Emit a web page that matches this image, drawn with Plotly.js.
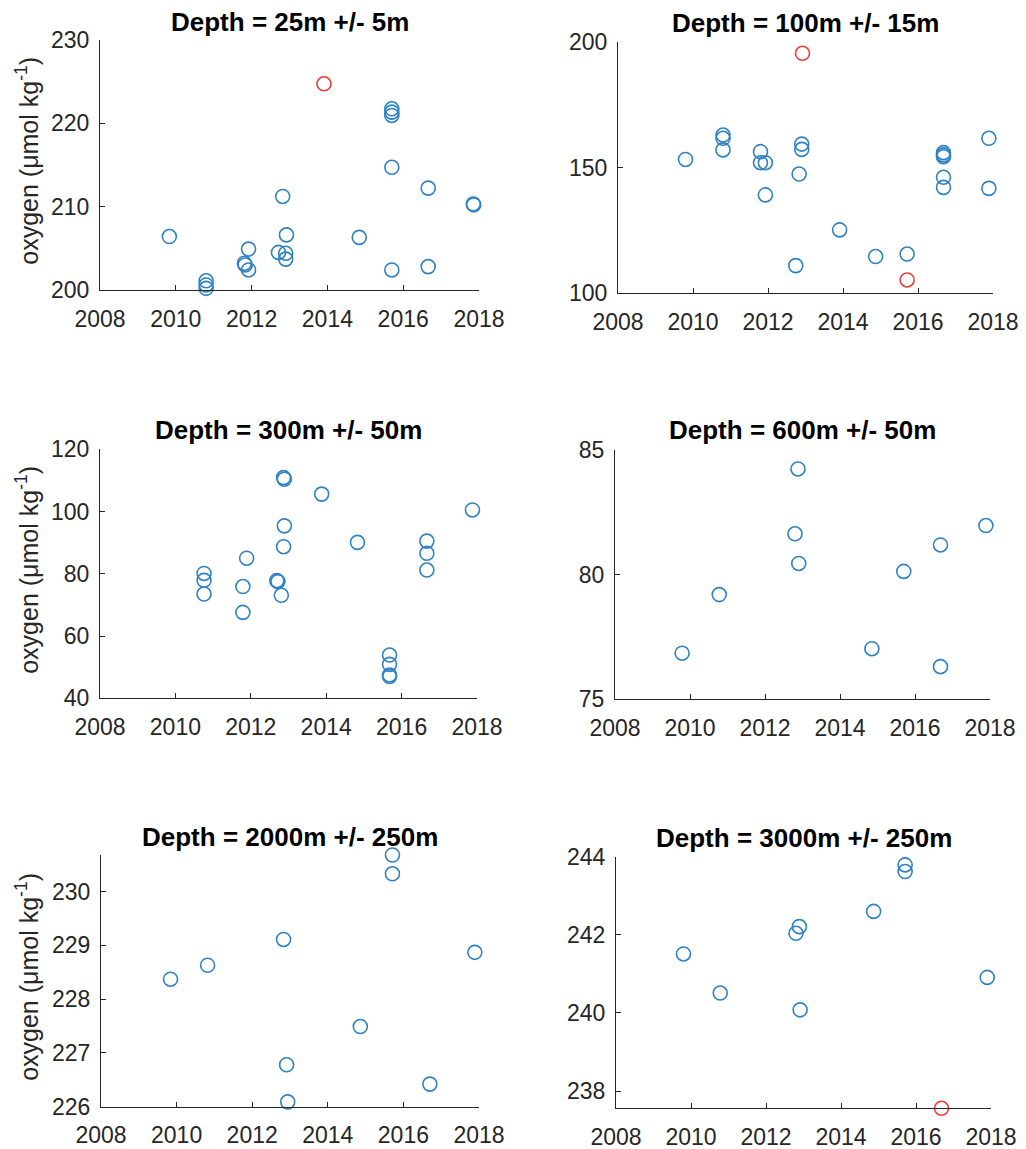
<!DOCTYPE html>
<html>
<head>
<meta charset="utf-8">
<script src="https://cdn.plot.ly/plotly-3.0.1.min.js"></script>
<style>html,body{margin:0;padding:0;background:#fff;}#chart{width:1026px;height:1149px;}</style>
</head>
<body>
<div id="chart"></div>
<script>
// ---------- data ----------
const panelTitles = ["Depth = 25m +/- 5m", "Depth = 100m +/- 15m", "Depth = 300m +/- 50m",
                     "Depth = 600m +/- 50m", "Depth = 2000m +/- 250m", "Depth = 3000m +/- 250m"];
const xTicks = [2008, 2010, 2012, 2014, 2016, 2018];
const yLabel = "oxygen (\u03bcmol kg<sup>-1</sup>)";

const years1 = [2009.83, 2010.80, 2010.80, 2010.80, 2011.81, 2011.83, 2011.92, 2011.92, 2012.71, 2012.82, 2012.92, 2012.90, 2012.90, 2014.84, 2015.70, 2015.70, 2015.70, 2015.70, 2015.70, 2016.66, 2016.66, 2017.85, 2017.86];
const vals1  = [206.4, 201.1, 200.6, 200.2, 203.2, 203.0, 204.9, 202.4, 204.5, 211.2, 206.6, 204.4, 203.7, 206.3, 221.7, 221.3, 220.9, 214.7, 202.4, 212.2, 202.8, 210.3, 210.2];
const redYears1 = [2013.91];
const redVals1  = [224.7];

const years2 = [2009.80, 2010.80, 2010.80, 2010.80, 2011.80, 2011.80, 2011.93, 2011.93, 2012.74, 2012.83, 2012.90, 2012.90, 2013.91, 2014.87, 2015.71, 2016.68, 2016.68, 2016.68, 2016.68, 2016.68, 2017.89, 2017.89];
const vals2  = [153.2, 162.9, 161.6, 157.0, 156.3, 151.9, 151.9, 139.1, 111.0, 147.4, 159.3, 157.2, 125.2, 114.6, 115.6, 155.9, 155.0, 154.3, 146.1, 142.1, 161.6, 141.7];
const redYears2 = [2012.92, 2015.71];
const redVals2  = [195.4, 105.3];

const years3 = [2010.76, 2010.76, 2010.76, 2011.79, 2011.79, 2011.89, 2012.69, 2012.72, 2012.81, 2012.87, 2012.89, 2012.87, 2012.89, 2013.88, 2014.83, 2015.68, 2015.68, 2015.68, 2015.68, 2016.67, 2016.67, 2016.67, 2017.88];
const vals3  = [80.1, 77.9, 73.5, 75.9, 67.6, 85.0, 77.8, 77.5, 73.1, 88.7, 95.4, 110.9, 110.4, 105.6, 90.1, 53.9, 50.9, 47.5, 47.0, 90.5, 86.6, 81.2, 100.5];
const redYears3 = [];
const redVals3  = [];

const years4 = [2009.79, 2010.78, 2012.80, 2012.88, 2012.90, 2014.85, 2015.70, 2016.68, 2016.68, 2017.89];
const vals4  = [76.85, 79.2, 81.64, 84.24, 80.45, 77.03, 80.13, 81.19, 76.31, 81.97];
const redYears4 = [];
const redVals4  = [];

const years5 = [2009.84, 2010.82, 2012.83, 2012.91, 2012.94, 2014.86, 2015.71, 2015.71, 2016.70, 2017.89];
const vals5  = [228.37, 228.63, 229.11, 226.78, 226.09, 227.49, 230.68, 230.33, 226.42, 228.87];
const redYears5 = [];
const redVals5  = [];

const years6 = [2009.80, 2010.78, 2012.80, 2012.89, 2012.91, 2014.87, 2015.71, 2015.71, 2017.90];
const vals6  = [241.51, 240.51, 242.04, 242.21, 240.08, 242.60, 243.79, 243.62, 240.91];
const redYears6 = [2016.68];
const redVals6  = [237.56];

const yRanges = [[200, 230], [100, 200], [40, 120], [75, 85], [226, 230.68], [237.56, 244]];
const yDticks = [10, 50, 20, 5, 1, 2];

// ---------- layout geometry (paper fractions) ----------
const W = 1026, H = 1149;
const boxes = [ // [x0,x1,yTop,yBottom] in px
  [100, 479, 39.5, 290],
  [618, 993, 41.7, 293.3],
  [100, 477, 449.3, 698.3],
  [615, 990, 450, 699.3],
  [101, 479, 855, 1106.7],
  [616, 991, 856.7, 1108.3]
];
const titleY = [21.7, 23, 430, 430, 836.7, 838];

const blue = '#2F82C4', red = '#EE3B3B';
const axisCol = '#262626';
const tickFont = {family: 'Liberation Sans, Arial, sans-serif', size: 23, color: axisCol};

const blues = [[years1, vals1], [years2, vals2], [years3, vals3], [years4, vals4], [years5, vals5], [years6, vals6]];
const reds = [[redYears1, redVals1], [redYears2, redVals2], [redYears3, redVals3], [redYears4, redVals4], [redYears5, redVals5], [redYears6, redVals6]];

const traces = [];
const layout = {
  width: W, height: H,
  margin: {l: 0, r: 0, t: 0, b: 0},
  paper_bgcolor: '#fff', plot_bgcolor: '#fff',
  showlegend: false,
  annotations: []
};

for (let i = 0; i < 6; i++) {
  const n = i + 1;
  const xa = n === 1 ? 'x' : 'x' + n;
  const ya = n === 1 ? 'y' : 'y' + n;
  const mk = (c) => ({symbol: 'circle-open', size: 14, color: c, line: {width: 1.6, color: c}});
  traces.push({x: blues[i][0], y: blues[i][1], xaxis: xa, yaxis: ya, type: 'scatter', mode: 'markers',
               marker: mk(blue), cliponaxis: false, hoverinfo: 'x+y'});
  if (reds[i][0].length) {
    traces.push({x: reds[i][0], y: reds[i][1], xaxis: xa, yaxis: ya, type: 'scatter', mode: 'markers',
                 marker: mk(red), cliponaxis: false, hoverinfo: 'x+y'});
  }
  const b = boxes[i];
  const common = {showline: true, linecolor: axisCol, linewidth: 1, ticks: 'inside', ticklen: 5,
                  tickcolor: axisCol, tickwidth: 1, showgrid: false, zeroline: false, mirror: false,
                  tickfont: tickFont, fixedrange: true};
  layout['xaxis' + (n === 1 ? '' : n)] = Object.assign({}, common, {
    domain: [b[0] / W, b[1] / W], anchor: ya, range: [2008, 2018],
    tickmode: 'array', tickvals: xTicks, ticktext: xTicks.map(String), ticklabelstandoff: 8
  });
  layout['yaxis' + (n === 1 ? '' : n)] = Object.assign({}, common, {
    domain: [1 - b[3] / H, 1 - b[2] / H], anchor: xa, range: yRanges[i],
    tick0: 0, dtick: yDticks[i], ticklabelstandoff: 5
  });
  layout.annotations.push({
    text: '<b>' + panelTitles[i] + '</b>', xref: 'paper', yref: 'paper',
    x: (b[0] + b[1]) / 2 / W, y: 1 - titleY[i] / H, xanchor: 'center', yanchor: 'middle',
    showarrow: false, font: {family: 'Liberation Sans, Arial, sans-serif', size: 26, color: '#000'}
  });
  if (i % 2 === 0) {
    layout.annotations.push({
      text: yLabel, xref: 'paper', yref: 'paper', textangle: -90,
      x: 27 / W, y: 1 - ((b[2] + b[3]) / 2 - 4) / H, xanchor: 'center', yanchor: 'middle',
      showarrow: false, font: {family: 'Liberation Sans, Arial, sans-serif', size: 25, color: axisCol}
    });
  }
}

Plotly.newPlot('chart', traces, layout, {displayModeBar: false});
</script>
</body>
</html>
